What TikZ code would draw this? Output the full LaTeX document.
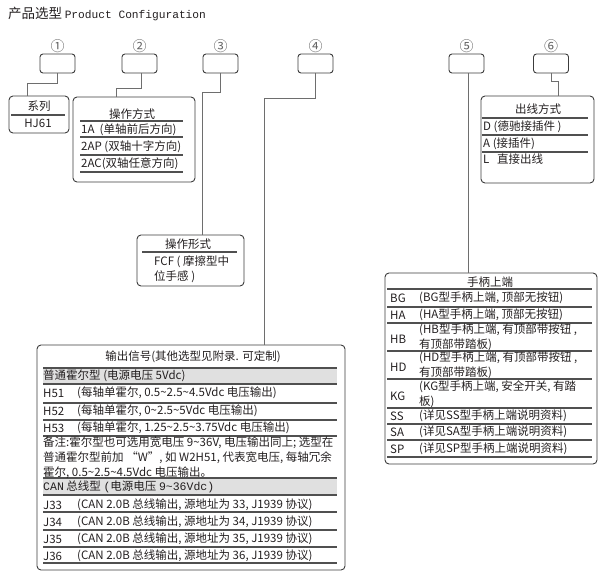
\documentclass[tikz,border=0pt]{standalone}
\usepackage{fontspec}
\setmainfont{Noto Sans CJK SC}
\newfontfamily\monofont{Liberation Mono}
\usetikzlibrary{positioning}
\definecolor{boxgray}{RGB}{60,60,60}
\definecolor{conngray}{RGB}{110,110,110}
\definecolor{rulegray}{RGB}{80,80,80}
\definecolor{rowgray}{RGB}{224,224,224}
\definecolor{numgray}{RGB}{100,100,100}
\definecolor{txtgray}{RGB}{35,31,32}
\newcommand{\tld}{\textasciitilde}

\begin{document}
\begin{tikzpicture}[x=1pt,y=-1pt,
        every node/.style={inner sep=0pt,text=txtgray,font=\fontsize{11.5}{15}\selectfont},
        selbox/.style={draw=boxgray,line width=0.9pt,rounded corners=3pt,minimum width=35pt,minimum height=19pt},
        infobox/.style={draw=boxgray,line width=0.9pt,rounded corners=4pt},
        numlbl/.style={text=numgray,font=\fontsize{14}{15}\selectfont},
        conn/.style={draw=conngray,line width=0.9pt},
        rowline/.style={draw=rulegray,line width=1.2pt},
        hdrow/.style={fill=rowgray}]
        \useasboundingbox (0,0) rectangle (613,583);
        % title
        \node [anchor=west] (title) at (8,14) {{\fontsize{13.5}{14}\selectfont 产品选型} {\monofont\fontsize{11.2}{12}\selectfont Product Configuration}};
        % selection boxes
        \foreach \x/\n [count=\i] in {57.5/①,139.5/②,220.5/③,315.5/④,466.5/⑤,551/⑥} {
                \node [selbox] (b\i) at (\x,63.5) {};
                \node [numlbl] (num\i) at (\x,46.5) {\n};
        }
        % series
        \node [infobox,minimum width=60pt,minimum height=37pt] (series) at (39,114.5) {};
        \node (seriest) at (39,106) {系列};
        \draw [rowline] (11,115) -- (65,115);
        \node (hj) at (38,123.5) {HJ61};
        \draw [conn] (b1.south) -- ++(0,10) -| ([xshift=-12pt]series.north);
        % operation mode
        \node [infobox,minimum width=122pt,minimum height=85pt] (opbox) at (134,139.5) {};
        \node (opt) at (132,114) {操作方式};
        \foreach \y in {121,137,155,172} \draw [rowline] (80,\y) -- (183,\y);
        \node [anchor=west] (op1) at (81,130) {1A\ \ (单轴前后方向)};
        \node [anchor=west] (op2) at (81,147) {2AP (双轴十字方向)};
        \node [anchor=west] (op3) at (81,164) {2AC(双轴任意方向)};
        \draw [conn] ([xshift=2pt]b2.south) -- ++(0,15) -| ([xshift=-18pt]opbox.north);
        % operation form
        \node [infobox,minimum width=107pt,minimum height=51pt] (formbox) at (190.5,260.5) {};
        \node (formt) at (188,244.5) {操作形式};
        \draw [rowline] (142,252) -- (237,252);
        \node [anchor=west] (fcf1) at (154,262) {FCF ( 摩擦型中};
        \node [anchor=west] (fcf2) at (154,277) {位手感 )};
        \draw [conn] ([xshift=-0.5pt]b3.south) -- ++(0,19) -| ([xshift=11.5pt]formbox.north);
        % output signal
        \node [infobox,minimum width=308pt,minimum height=225pt] (outbox) at (191,457.5) {};
        \node (outt) at (193,356.5) {输出信号(其他选型见附录. 可定制)};
        \fill [hdrow] (43,368) rectangle (337,384);
        \fill [hdrow] (43,478) rectangle (337,495);
        \foreach \y in {368,384,403,420,436,478,495,512,530,547,563} \draw [rowline] (43,\y) -- (337,\y);
        \node [anchor=west] (hall) at (43,376) {普通霍尔型 (电源电压 5Vdc)};
        \node [anchor=west] (h51) at (43,393) {H51};
        \node [anchor=west] (h51d) at (77,393) {(每轴单霍尔, 0.5\tld 2.5\tld 4.5Vdc 电压输出)};
        \node [anchor=west] (h52) at (43,411) {H52};
        \node [anchor=west] (h52d) at (77,411) {(每轴单霍尔, 0\tld 2.5\tld 5Vdc 电压输出)};
        \node [anchor=west] (h53) at (43,428) {H53};
        \node [anchor=west] (h53d) at (77,428) {(每轴单霍尔, 1.25\tld 2.5\tld 3.75Vdc 电压输出)};
        \node [anchor=north west,align=left] (note) at (43,437) {备注:霍尔型也可选用宽电压 9\tld 36V, 电压输出同上; 选型在\\普通霍尔型前加\ “W”, 如 W2H51, 代表宽电压, 每轴冗余\\霍尔, 0.5\tld 2.5\tld 4.5Vdc 电压输出。};
        \node [anchor=west] (can) at (43,487) {{\monofont CAN} 总线型 {\monofont (}电源电压 {\monofont 9\tld 36Vdc)}};
        \node [anchor=west] (j33) at (43,505) {J33};
        \node [anchor=west] (j33d) at (77,505) {(CAN 2.0B 总线输出, 源地址为 33, J1939 协议)};
        \node [anchor=west] (j34) at (43,522) {J34};
        \node [anchor=west] (j34d) at (77,522) {(CAN 2.0B 总线输出, 源地址为 34, J1939 协议)};
        \node [anchor=west] (j35) at (43,539) {J35};
        \node [anchor=west] (j35d) at (77,539) {(CAN 2.0B 总线输出, 源地址为 35, J1939 协议)};
        \node [anchor=west] (j36) at (43,556) {J36};
        \node [anchor=west] (j36d) at (77,556) {(CAN 2.0B 总线输出, 源地址为 36, J1939 协议)};
        \draw [conn] ([xshift=-0.5pt]b4.south) -- ++(0,25) -| ([xshift=73pt]outbox.north);
        % handle top
        \node [infobox,minimum width=212pt,minimum height=191pt] (handle) at (491,368.5) {};
        \node (handlet) at (490,282.5) {手柄上端};
        \foreach \y in {289,307,323,351,379,408,424,440,457} \draw [rowline] (387,\y) -- (592,\y);
        \node [anchor=west] (bg) at (390,298) {BG};
        \node [anchor=west] (bgd) at (419,298) {(BG型手柄上端, 顶部无按钮)};
        \node [anchor=west] (ha) at (390,315) {HA};
        \node [anchor=west] (had) at (419,315) {(HA型手柄上端, 顶部无按钮)};
        \node [anchor=west] (hb) at (390,339) {HB};
        \node [anchor=north west,align=left] (hbd) at (419,324) {(HB型手柄上端, 有顶部带按钮 ,\\有顶部带踏板)};
        \node [anchor=west] (hd) at (390,367) {HD};
        \node [anchor=north west,align=left] (hdd) at (419,352) {(HD型手柄上端, 有顶部带按钮 ,\\有顶部带踏板)};
        \node [anchor=west] (kg) at (390,396) {KG};
        \node [anchor=north west,align=left] (kgd) at (419,381) {(KG型手柄上端, 安全开关, 有踏\\板)};
        \node [anchor=west] (ss) at (390,416) {SS};
        \node [anchor=west] (ssd) at (419,416) {(详见SS型手柄上端说明资料)};
        \node [anchor=west] (sa) at (390,432) {SA};
        \node [anchor=west] (sad) at (419,432) {(详见SA型手柄上端说明资料)};
        \node [anchor=west] (sp) at (390,449) {SP};
        \node [anchor=west] (spd) at (419,449) {(详见SP型手柄上端说明资料)};
        \draw [conn] ([xshift=1.5pt]b5.south) -- ([xshift=-23pt]handle.north);
        % exit mode
        \node [infobox,minimum width=113pt,minimum height=87pt] (exitbox) at (537.5,139.5) {};
        \node (exitt) at (538,109.5) {出线方式};
        \foreach \y in {118,135,152} \draw [rowline] (482,\y) -- (588,\y);
        \node [anchor=west] (exd) at (483,127) {D (德驰接插件 )};
        \node [anchor=west] (exa) at (483,144) {A (接插件)};
        \node [anchor=west] (exl) at (483,159) {L\ \ \ 直接出线};
        \draw [conn] (b6.south) -- ++(0,8) -| ([xshift=20.5pt]exitbox.north);
\end{tikzpicture}
\end{document}
